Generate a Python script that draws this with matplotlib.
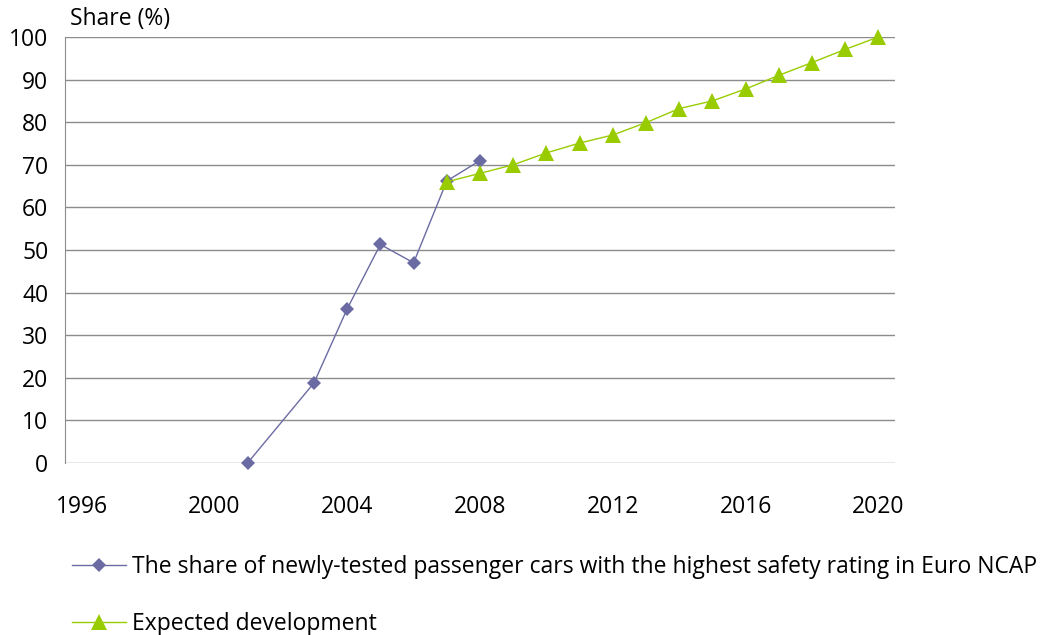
import matplotlib
matplotlib.use("Agg")
import matplotlib.pyplot as plt
import numpy as np

years_actual = [2001, 2003, 2004, 2005, 2006, 2007, 2008]
share_actual = [0, 18.8, 36.2, 51.3, 47.0, 66.2, 71.0]

years_expected = list(range(2007, 2021))
share_expected = [66.0, 68.0, 70.0, 72.8, 75.1, 77.0, 79.9, 83.2, 85.0, 87.8, 91.0, 94.0, 97.1, 100.0]

xticks = [1996, 2000, 2004, 2008, 2012, 2016, 2020]
yticks = list(range(0, 101, 10))

label_actual = "The share of newly-tested passenger cars with the highest safety rating in Euro NCAP"
label_expected = "Expected development"

plt.rcParams['font.family'] = ['Open Sans', 'DejaVu Sans']

fig = plt.figure(figsize=(10.53, 6.35), dpi=100)
ax = fig.add_axes([65/1053, 1-463/635, 830/1053, 426/635])

blue = '#6B6BA3'
green = '#99CC00'
FS = 16.5

for y in yticks:
    ax.axhline(y, color='#8C8C8C', lw=1.0, zorder=1)

ax.plot(years_actual, share_actual, color=blue, lw=1.0, marker='D', markersize=7,
        markeredgewidth=0, label=label_actual, zorder=3, clip_on=False)
ax.plot(years_expected, share_expected, color=green, lw=1.0, marker='^', markersize=11,
        markeredgewidth=0, label=label_expected, zorder=4, clip_on=False)

ax.set_xlim(1995.5, 2020.5)
ax.set_ylim(0, 100)
ax.set_xticks(xticks)
ax.set_yticks(yticks)
ax.tick_params(length=0, labelsize=FS, colors='black')
ax.tick_params(axis='x', pad=23)
ax.tick_params(axis='y', pad=12)
for s in ['top', 'right', 'bottom']:
    ax.spines[s].set_visible(False)
ax.spines['left'].set_color('#8C8C8C')

fig.text(70/1053, 1-19/635, "Share (%)", fontsize=FS, va='center', ha='left')

leg = fig.legend(loc='upper left', bbox_to_anchor=(72/1053, 1-555/635), frameon=False,
                 fontsize=FS, handlelength=2.37, handletextpad=0.26, labelspacing=1.42,
                 borderpad=0, borderaxespad=0)

fig.savefig('out.png', dpi=100)
